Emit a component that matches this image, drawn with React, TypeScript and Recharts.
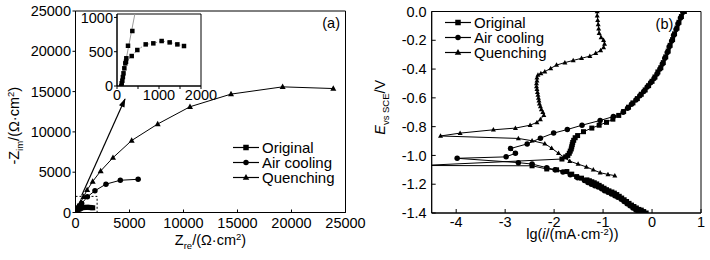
import React from 'react';
import { ComposedChart, Line, XAxis, YAxis, ReferenceArea, Legend } from 'recharts';

const FONT = '"Liberation Sans", Arial, Helvetica, sans-serif';
const INK = '#000';
const GREY = '#9a9a9a';

// ---------------- Panel (a): Nyquist plot ----------------
const nyqTicks = [0, 5000, 10000, 15000, 20000, 25000];

const nyqOriginalSteep = [
  { x: 103, y: 0 }, { x: 112, y: 40 }, { x: 127, y: 77 }, { x: 140, y: 130 }, { x: 155, y: 185 },
  { x: 175, y: 258 }, { x: 198, y: 330 }, { x: 222, y: 404 }, { x: 262, y: 587 }, { x: 365, y: 802 },
];
const nyqOriginalArc = [
  { x: 214, y: 354 }, { x: 350, y: 437 }, { x: 484, y: 525 }, { x: 683, y: 607 }, { x: 865, y: 622 },
  { x: 1063, y: 656 }, { x: 1254, y: 636 }, { x: 1437, y: 607 }, { x: 1595, y: 583 },
];
const nyqAirCooling = [
  { x: 60, y: 0 }, { x: 260, y: 490 }, { x: 570, y: 1110 }, { x: 1100, y: 1950 },
  { x: 1800, y: 2700 }, { x: 2820, y: 3520 }, { x: 4150, y: 4000 }, { x: 5800, y: 4120 },
];
const nyqQuenching = [
  { x: 60, y: 0 }, { x: 150, y: 280 }, { x: 300, y: 720 }, { x: 500, y: 1300 }, { x: 740, y: 1950 },
  { x: 1080, y: 2800 }, { x: 1590, y: 3850 }, { x: 2330, y: 5150 }, { x: 3470, y: 6800 },
  { x: 5200, y: 8930 }, { x: 7610, y: 10980 }, { x: 10600, y: 13120 }, { x: 14400, y: 14690 },
  { x: 19180, y: 15590 }, { x: 23870, y: 15380 },
];
const nyqArrow = [{ x: 570, y: 2100 }, { x: 4580, y: 14070 }];
const nyqZoomBox = [0, 2000]; // dashed box, both axes

// inset
const insetXTicks = [0, 500, 1000, 1500, 2000];
const insetYTicks = [0, 500, 1000];
const insetFitLine = [{ x: 95, y: 0 }, { x: 425, y: 1050 }];

// ---------------- Panel (b): polarization curves ----------------
const tafelXTicks = [-4, -3, -2, -1, 0, 1];
const tafelYTicks = [-1.4, -1.2, -1.0, -0.8, -0.6, -0.4, -0.2, 0];

const tafelOriginal = [
  { x: -0.12, y: -1.4 }, { x: -0.17, y: -1.39 }, { x: -0.22, y: -1.38 }, { x: -0.27, y: -1.375 },
  { x: -0.32, y: -1.365 }, { x: -0.37, y: -1.355 }, { x: -0.42, y: -1.345 }, { x: -0.47, y: -1.333 },
  { x: -0.52, y: -1.32 }, { x: -0.57, y: -1.308 }, { x: -0.62, y: -1.296 }, { x: -0.67, y: -1.284 },
  { x: -0.72, y: -1.272 }, { x: -0.77, y: -1.262 }, { x: -0.82, y: -1.254 }, { x: -0.88, y: -1.246 },
  { x: -0.93, y: -1.238 }, { x: -0.98, y: -1.228 }, { x: -1.03, y: -1.218 }, { x: -1.08, y: -1.208 },
  { x: -1.13, y: -1.198 }, { x: -1.18, y: -1.19 }, { x: -1.23, y: -1.183 }, { x: -1.28, y: -1.176 },
  { x: -1.33, y: -1.17 }, { x: -1.44, y: -1.158 }, { x: -1.54, y: -1.147 }, { x: -1.64, y: -1.13 },
  { x: -1.74, y: -1.112 }, { x: -1.95, y: -1.1 }, { x: -2.15, y: -1.094 }, { x: -2.45, y: -1.072 },
  { x: -4.7, y: -1.07 }, { x: -1.84, y: -1.025 }, { x: -1.76, y: -1.01 }, { x: -1.72, y: -1.0 },
  { x: -1.69, y: -0.985 }, { x: -1.67, y: -0.97 }, { x: -1.65, y: -0.955 }, { x: -1.64, y: -0.94 },
  { x: -1.63, y: -0.925 }, { x: -1.62, y: -0.91 }, { x: -1.6, y: -0.895 }, { x: -1.57, y: -0.877 },
  { x: -1.52, y: -0.862 }, { x: -1.4, y: -0.835 }, { x: -1.23, y: -0.81 }, { x: -1.08, y: -0.79 },
  { x: -0.93, y: -0.77 }, { x: -0.8, y: -0.748 }, { x: -0.68, y: -0.722 }, { x: -0.58, y: -0.695 },
  { x: -0.48, y: -0.665 }, { x: -0.39, y: -0.635 }, { x: -0.3, y: -0.605 }, { x: -0.22, y: -0.575 },
  { x: -0.14, y: -0.545 }, { x: -0.07, y: -0.515 }, { x: 0.0, y: -0.485 }, { x: 0.06, y: -0.455 },
  { x: 0.12, y: -0.42 }, { x: 0.18, y: -0.39 }, { x: 0.23, y: -0.355 }, { x: 0.28, y: -0.315 },
  { x: 0.33, y: -0.275 }, { x: 0.37, y: -0.235 }, { x: 0.42, y: -0.195 }, { x: 0.46, y: -0.155 },
  { x: 0.51, y: -0.115 }, { x: 0.55, y: -0.075 }, { x: 0.6, y: -0.035 }, { x: 0.66, y: 0 },
];
const tafelAirCooling = [
  { x: -0.22, y: -1.4 }, { x: -0.28, y: -1.39 }, { x: -0.33, y: -1.38 }, { x: -0.39, y: -1.365 },
  { x: -0.45, y: -1.35 }, { x: -0.51, y: -1.335 }, { x: -0.57, y: -1.32 }, { x: -0.63, y: -1.305 },
  { x: -0.7, y: -1.29 }, { x: -0.76, y: -1.28 }, { x: -0.83, y: -1.268 }, { x: -0.9, y: -1.256 },
  { x: -0.97, y: -1.245 }, { x: -1.03, y: -1.232 }, { x: -1.1, y: -1.22 }, { x: -1.17, y: -1.21 },
  { x: -1.24, y: -1.2 }, { x: -1.31, y: -1.188 }, { x: -1.38, y: -1.175 }, { x: -1.52, y: -1.155 },
  { x: -1.67, y: -1.135 }, { x: -1.82, y: -1.115 }, { x: -1.98, y: -1.1 }, { x: -2.15, y: -1.085 },
  { x: -2.45, y: -1.06 }, { x: -2.73, y: -1.05 }, { x: -3.98, y: -1.02 }, { x: -2.98, y: -1.01 },
  { x: -2.79, y: -0.985 }, { x: -2.89, y: -0.952 }, { x: -2.55, y: -0.92 }, { x: -2.28, y: -0.88 },
  { x: -2.01, y: -0.845 }, { x: -1.73, y: -0.82 }, { x: -1.43, y: -0.79 }, { x: -1.06, y: -0.757 },
  { x: -0.79, y: -0.73 }, { x: -0.59, y: -0.7 }, { x: -0.5, y: -0.672 }, { x: -0.42, y: -0.645 },
  { x: -0.33, y: -0.615 }, { x: -0.25, y: -0.585 }, { x: -0.17, y: -0.555 }, { x: -0.1, y: -0.525 },
  { x: -0.03, y: -0.495 }, { x: 0.04, y: -0.465 }, { x: 0.1, y: -0.435 }, { x: 0.16, y: -0.4 },
  { x: 0.21, y: -0.365 }, { x: 0.26, y: -0.325 }, { x: 0.31, y: -0.285 }, { x: 0.35, y: -0.245 },
  { x: 0.4, y: -0.205 }, { x: 0.44, y: -0.165 }, { x: 0.49, y: -0.125 }, { x: 0.53, y: -0.085 },
  { x: 0.58, y: -0.045 }, { x: 0.63, y: -0.005 },
];
const tafelQuenching = [
  { x: -0.76, y: -1.14 }, { x: -0.9, y: -1.132 }, { x: -1.06, y: -1.12 }, { x: -1.2, y: -1.1 },
  { x: -1.34, y: -1.08 }, { x: -1.51, y: -1.06 }, { x: -1.68, y: -1.04 }, { x: -1.8, y: -1.012 },
  { x: -1.91, y: -0.985 }, { x: -2.05, y: -0.95 }, { x: -2.19, y: -0.918 }, { x: -2.45, y: -0.898 },
  { x: -2.73, y: -0.882 }, { x: -4.32, y: -0.865 }, { x: -3.92, y: -0.845 }, { x: -3.24, y: -0.822 },
  { x: -2.79, y: -0.81 }, { x: -2.49, y: -0.79 }, { x: -2.35, y: -0.77 }, { x: -2.28, y: -0.75 },
  { x: -2.21, y: -0.72 }, { x: -2.23, y: -0.7 }, { x: -2.26, y: -0.68 }, { x: -2.28, y: -0.66 },
  { x: -2.3, y: -0.64 }, { x: -2.31, y: -0.62 }, { x: -2.32, y: -0.6 }, { x: -2.33, y: -0.58 },
  { x: -2.34, y: -0.56 }, { x: -2.35, y: -0.54 }, { x: -2.36, y: -0.52 }, { x: -2.36, y: -0.5 },
  { x: -2.35, y: -0.48 }, { x: -2.35, y: -0.46 }, { x: -2.33, y: -0.44 }, { x: -2.27, y: -0.43 },
  { x: -2.19, y: -0.418 }, { x: -2.07, y: -0.395 }, { x: -1.95, y: -0.372 }, { x: -1.78, y: -0.355 },
  { x: -1.61, y: -0.34 }, { x: -1.44, y: -0.325 }, { x: -1.27, y: -0.31 }, { x: -1.15, y: -0.29 },
  { x: -1.05, y: -0.27 }, { x: -0.99, y: -0.25 }, { x: -0.97, y: -0.225 }, { x: -0.99, y: -0.2 },
  { x: -1.04, y: -0.18 }, { x: -1.08, y: -0.15 }, { x: -1.09, y: -0.12 }, { x: -1.1, y: -0.09 },
  { x: -1.11, y: -0.06 }, { x: -1.12, y: -0.03 }, { x: -1.12, y: 0 },
];

const seriesNames = ['Original', 'Air cooling', 'Quenching'];
const seriesMarkers = ['square', 'circle', 'triangle'];

// ---------------- marker renderers ----------------
const markerShape = (kind: string, cx: number, cy: number, s: number, key: string, fill = INK) => {
  if (kind === 'square') return <rect key={key} x={cx - s / 2} y={cy - s / 2} width={s} height={s} fill={fill} />;
  if (kind === 'circle') return <circle key={key} cx={cx} cy={cy} r={s / 2} fill={fill} />;
  const h = s * 0.9;
  return <polygon key={key} points={`${cx},${cy - h * 0.6} ${cx - s / 2},${cy + h * 0.4} ${cx + s / 2},${cy + h * 0.4}`} fill={fill} />;
};
const dotOf = (kind: string, s: number) => (p: any) => {
  const key = `${kind}-${p.index}`;
  if (p.cx == null || p.cy == null || isNaN(p.cx) || isNaN(p.cy)) return <g key={key} />;
  return markerShape(kind, p.cx, p.cy, s, key);
};
const arrowDot = (p: any) => {
  const key = `arr-${p.index}`;
  if (p.index !== nyqArrow.length - 1 || p.cx == null) return <g key={key} />;
  return <polygon key={key} points="1,0 -8,-3 -8,3" transform={`translate(${p.cx} ${p.cy}) rotate(-66)`} fill={INK} />;
};

// ---------------- labels ----------------
const SUB = 9.5;
const YLabelA = (props: any) => {
  const vb = props.viewBox || { x: 0, y: 0, width: 0, height: 0 };
  const x = vb.x + 3.5;
  const y = vb.y + vb.height / 2 + 14;
  return (
    <text x={x} y={y} transform={`rotate(-90 ${x} ${y})`} textAnchor="middle" fontFamily={FONT} fontSize={14.5} fill={INK}>
      <tspan>-Z</tspan>
      <tspan fontSize={SUB} dy={4}>im</tspan>
      <tspan dy={-4}>/(Ω·cm</tspan>
      <tspan fontSize={SUB} dy={-5}>2</tspan>
      <tspan dy={5}>)</tspan>
    </text>
  );
};
const XLabelA = (props: any) => {
  const vb = props.viewBox || { x: 0, y: 0, width: 0, height: 0 };
  const x = vb.x + vb.width / 2;
  const y = vb.y + 32;
  return (
    <text x={x} y={y} textAnchor="middle" fontFamily={FONT} fontSize={14.5} fill={INK}>
      <tspan>Z</tspan>
      <tspan fontSize={SUB} dy={4}>re</tspan>
      <tspan dy={-4}>/(Ω·cm</tspan>
      <tspan fontSize={SUB} dy={-4.5}>2</tspan>
      <tspan dy={4.5}>)</tspan>
    </text>
  );
};
const YLabelB = (props: any) => {
  const vb = props.viewBox || { x: 0, y: 0, width: 0, height: 0 };
  const x = vb.x + 13;
  const y = vb.y + vb.height / 2 - 5;
  return (
    <text x={x} y={y} transform={`rotate(-90 ${x} ${y})`} textAnchor="middle" fontFamily={FONT} fontSize={14.5} fill={INK}>
      <tspan fontStyle="italic">E</tspan>
      <tspan fontSize={SUB} dy={4}>vs SCE</tspan>
      <tspan dy={-4}>/V</tspan>
    </text>
  );
};
const XLabelB = (props: any) => {
  const vb = props.viewBox || { x: 0, y: 0, width: 0, height: 0 };
  const x = vb.x + vb.width / 2 + 6;
  const y = vb.y + 26;
  return (
    <text x={x} y={y} textAnchor="middle" fontFamily={FONT} fontSize={14.5} fill={INK}>
      <tspan>lg(</tspan>
      <tspan fontStyle="italic">i</tspan>
      <tspan>/(mA·cm</tspan>
      <tspan fontSize={SUB} dy={-4.5}>-2</tspan>
      <tspan dy={4.5}>))</tspan>
    </text>
  );
};
const cornerLabel = (txt: string, dx: number) => (props: any) => {
  const vb = props.viewBox || { x: 0, y: 0, width: 0, height: 0 };
  return (
    <text x={vb.x + vb.width - dx} y={vb.y + 17} textAnchor="end" fontFamily={FONT} fontSize={14.5} fill={INK}>
      {txt}
    </text>
  );
};

const LegendBox = () => (
  <div style={{ fontFamily: FONT, fontSize: 15, color: INK }}>
    {seriesNames.map((n, i) => (
      <div key={n} style={{ display: 'flex', alignItems: 'center', height: 15, lineHeight: '15px' }}>
        <svg width={26} height={15} style={{ display: 'block' }}>
          <line x1={0} y1={7.5} x2={26} y2={7.5} stroke={INK} strokeWidth={1.2} />
          {markerShape(seriesMarkers[i], 13, 7.5, seriesMarkers[i] === 'triangle' ? 6.5 : 5.5, `lg${i}`)}
        </svg>
        <span style={{ marginLeft: 3, whiteSpace: 'nowrap' }}>{n}</span>
      </div>
    ))}
  </div>
);

const tickStyle = { fill: INK, fontSize: 14.5, fontFamily: FONT };
const axisLine = { stroke: INK, strokeWidth: 1 };

export default function App() {
  return (
    <div style={{ position: 'fixed', left: 0, top: 0, width: 710, height: 260, background: '#fff', overflow: 'hidden' }}>
      {/* Panel (a) */}
      <div style={{ position: 'absolute', left: 0, top: 0 }}>
        <ComposedChart width={370} height={260} margin={{ top: 11, right: 24.5, bottom: 17.5, left: 15.5 }}>
          <XAxis dataKey="x" type="number" domain={[0, 25000]} ticks={nyqTicks} interval={0} allowDataOverflow
            height={30} tick={tickStyle} tickSize={-3} tickMargin={8} tickLine={axisLine} axisLine={axisLine}
            label={<XLabelA />} />
          <YAxis dataKey="y" type="number" domain={[0, 25000]} ticks={nyqTicks} interval={0} allowDataOverflow
            width={60} tick={tickStyle} tickSize={3} tickMargin={1.5} tickLine={axisLine} axisLine={axisLine}
            label={<YLabelA />} />
          <ReferenceArea x1={0} x2={25000} y1={0} y2={25000} fill="none" stroke={INK} strokeWidth={1}
            label={cornerLabel('(a)', 5.5)} />
          <ReferenceArea x1={nyqZoomBox[0]} x2={nyqZoomBox[1]} y1={nyqZoomBox[0]} y2={nyqZoomBox[1]}
            fill="none" stroke={INK} strokeWidth={1} strokeDasharray="2 2" />
          <Line data={nyqArrow} dataKey="y" type="linear" stroke={INK} strokeWidth={1.2} dot={arrowDot}
            activeDot={false} isAnimationActive={false} legendType="none" />
          <Line data={nyqQuenching} dataKey="y" type="linear" stroke={INK} strokeWidth={1} dot={dotOf('triangle', 6)}
            activeDot={false} isAnimationActive={false} legendType="none" />
          <Line data={nyqAirCooling} dataKey="y" type="linear" stroke={INK} strokeWidth={1} dot={dotOf('circle', 5.5)}
            activeDot={false} isAnimationActive={false} legendType="none" />
          <Line data={nyqOriginalSteep} dataKey="y" type="linear" stroke={INK} strokeWidth={1} dot={dotOf('square', 5)}
            activeDot={false} isAnimationActive={false} legendType="none" />
          <Line data={nyqOriginalArc} dataKey="y" type="linear" stroke={INK} strokeWidth={1} dot={dotOf('square', 5)}
            activeDot={false} isAnimationActive={false} legendType="none" />
          <Legend content={<LegendBox />} layout="horizontal" verticalAlign="middle" align="center"
            wrapperStyle={{ left: 233, top: 140, width: 'auto', height: 'auto' }} />
        </ComposedChart>
      </div>

      {/* Inset of panel (a) */}
      <div style={{ position: 'absolute', left: 70, top: 0 }}>
        <ComposedChart width={150} height={110} margin={{ top: 14, right: 19, bottom: 4, left: 7 }}>
          <XAxis dataKey="x" type="number" domain={[0, 2000]} ticks={insetXTicks} interval={0} allowDataOverflow
            height={20} tick={tickStyle} tickSize={3} tickMargin={1} tickLine={axisLine} axisLine={axisLine}
            tickFormatter={(v: number) => (v % 1000 === 0 ? String(v) : '')} />
          <YAxis dataKey="y" type="number" domain={[0, 1050]} ticks={insetYTicks} interval={0} allowDataOverflow
            width={40} tick={tickStyle} tickSize={3} tickMargin={1} tickLine={axisLine} axisLine={axisLine} />
          <ReferenceArea x1={0} x2={2000} y1={0} y2={1050} fill="none" stroke={INK} strokeWidth={1} />
          <Line data={insetFitLine} dataKey="y" type="linear" stroke={GREY} strokeWidth={1} dot={false}
            activeDot={false} isAnimationActive={false} legendType="none" />
          <Line data={nyqOriginalArc} dataKey="y" type="linear" stroke={GREY} strokeWidth={1} strokeDasharray="2 2"
            dot={dotOf('square', 4.5)} activeDot={false} isAnimationActive={false} legendType="none" />
          <Line data={nyqOriginalSteep} dataKey="y" type="linear" stroke="none" dot={dotOf('square', 4.5)}
            activeDot={false} isAnimationActive={false} legendType="none" />
        </ComposedChart>
      </div>

      {/* Panel (b) */}
      <div style={{ position: 'absolute', left: 360, top: 0 }}>
        <ComposedChart width={350} height={260} margin={{ top: 11.5, right: 9, bottom: 17, left: 11.7 }}>
          <XAxis dataKey="x" type="number" domain={[-4.5, 1]} ticks={tafelXTicks} interval={0} allowDataOverflow
            height={30} tick={tickStyle} tickSize={-4} tickMargin={8} tickLine={axisLine} axisLine={axisLine}
            label={<XLabelB />} />
          <YAxis dataKey="y" type="number" domain={[-1.4, 0]} ticks={tafelYTicks} interval={0} allowDataOverflow
            width={60} tick={tickStyle} tickSize={-4} tickMargin={9} tickLine={axisLine} axisLine={axisLine}
            tickFormatter={(v: number) => v.toFixed(1)} label={<YLabelB />} />
          <ReferenceArea x1={-4.5} x2={1} y1={-1.4} y2={0} fill="none" stroke={INK} strokeWidth={1}
            label={cornerLabel('(b)', 27.7)} />
          <Line data={tafelQuenching} dataKey="y" type="linear" stroke={INK} strokeWidth={1} dot={dotOf('triangle', 5)}
            activeDot={false} isAnimationActive={false} legendType="none" />
          <Line data={tafelAirCooling} dataKey="y" type="linear" stroke={INK} strokeWidth={1} dot={dotOf('circle', 5.5)}
            activeDot={false} isAnimationActive={false} legendType="none" />
          <Line data={tafelOriginal} dataKey="y" type="linear" stroke={INK} strokeWidth={1} dot={dotOf('square', 5)}
            activeDot={false} isAnimationActive={false} legendType="none" />
          <Legend content={<LegendBox />} layout="horizontal" verticalAlign="middle" align="center"
            wrapperStyle={{ left: 85, top: 15, width: 'auto', height: 'auto' }} />
        </ComposedChart>
      </div>
    </div>
  );
}
